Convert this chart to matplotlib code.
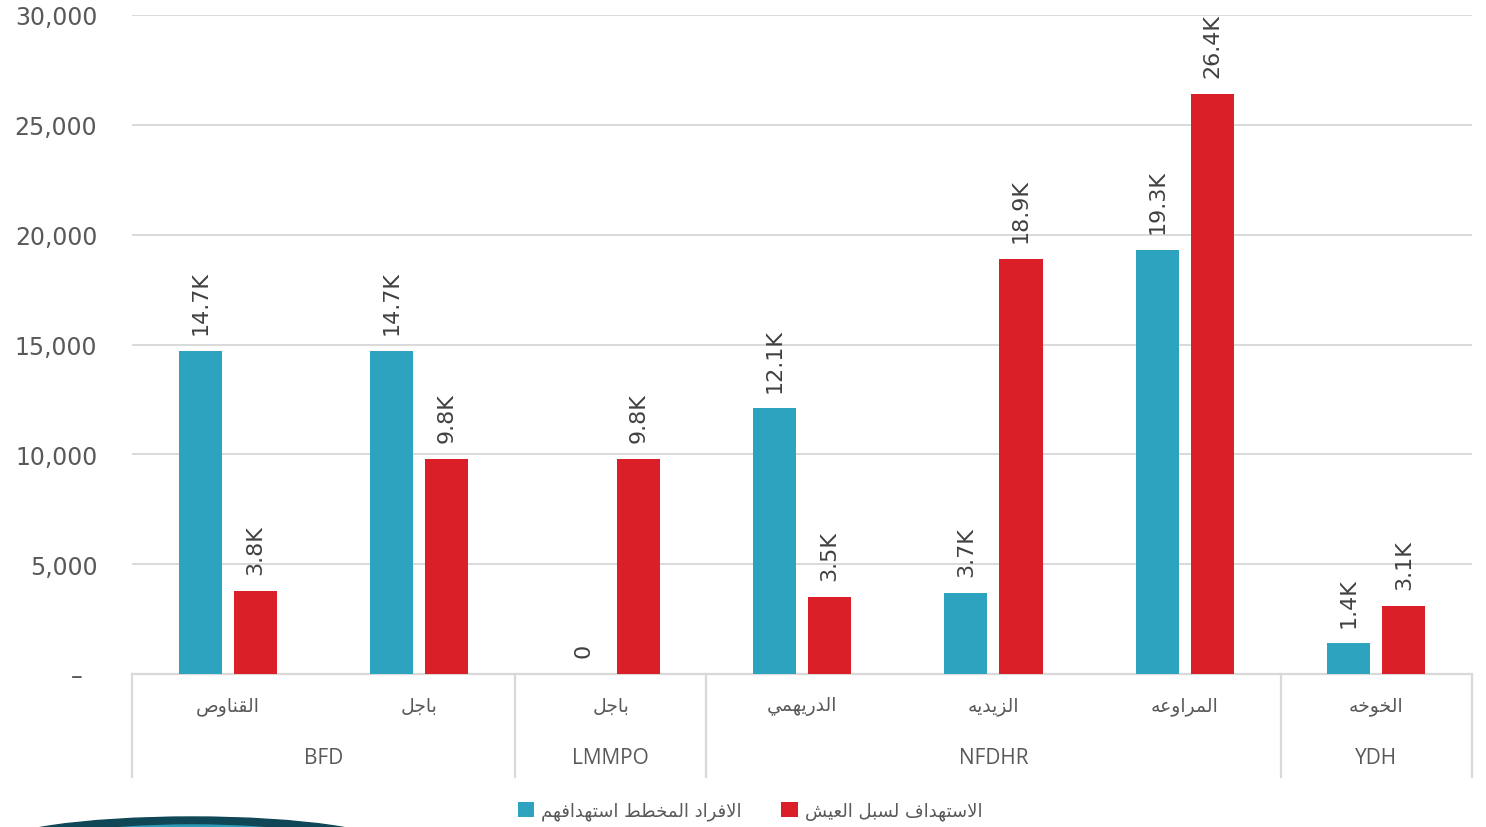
import matplotlib
matplotlib.use('Agg')
import matplotlib.pyplot as plt
import numpy as np
from matplotlib.patches import Ellipse, Patch
from matplotlib.lines import Line2D
from matplotlib.ticker import FuncFormatter

# ---------------- data ----------------
groups = ['BFD', 'LMMPO', 'NFDHR', 'YDH']
group_sizes = [2, 1, 3, 1]
districts = ['القناوص', 'باجل', 'باجل', 'الدريهمي', 'الزيديه', 'المراوعه', 'الخوخه']
planned = [14700, 14700, 0, 12100, 3700, 19300, 1400]
livelihood = [3800, 9800, 9800, 3500, 18900, 26400, 3100]
planned_labels = ['14.7K', '14.7K', '0', '12.1K', '3.7K', '19.3K', '1.4K']
livelihood_labels = ['3.8K', '9.8K', '9.8K', '3.5K', '18.9K', '26.4K', '3.1K']
series_names = ['الافراد المخطط استهدافهم', 'الاستهداف لسبل العيش']
yticks = [0, 5000, 10000, 15000, 20000, 25000, 30000]

# ---------------- simple Arabic shaping ----------------
FORMS = {  # isolated, final, initial, medial
    'ا': ('\uFE8D', '\uFE8E', None, None),
    'ب': ('\uFE8F', '\uFE90', '\uFE91', '\uFE92'),
    'ت': ('\uFE95', '\uFE96', '\uFE97', '\uFE98'),
    'ج': ('\uFE9D', '\uFE9E', '\uFE9F', '\uFEA0'),
    'خ': ('\uFEA5', '\uFEA6', '\uFEA7', '\uFEA8'),
    'د': ('\uFEA9', '\uFEAA', None, None),
    'ر': ('\uFEAD', '\uFEAE', None, None),
    'ز': ('\uFEAF', '\uFEB0', None, None),
    'س': ('\uFEB1', '\uFEB2', '\uFEB3', '\uFEB4'),
    'ش': ('\uFEB5', '\uFEB6', '\uFEB7', '\uFEB8'),
    'ص': ('\uFEB9', '\uFEBA', '\uFEBB', '\uFEBC'),
    'ط': ('\uFEC1', '\uFEC2', '\uFEC3', '\uFEC4'),
    'ع': ('\uFEC9', '\uFECA', '\uFECB', '\uFECC'),
    'ف': ('\uFED1', '\uFED2', '\uFED3', '\uFED4'),
    'ق': ('\uFED5', '\uFED6', '\uFED7', '\uFED8'),
    'ل': ('\uFEDD', '\uFEDE', '\uFEDF', '\uFEE0'),
    'م': ('\uFEE1', '\uFEE2', '\uFEE3', '\uFEE4'),
    'ن': ('\uFEE5', '\uFEE6', '\uFEE7', '\uFEE8'),
    'ه': ('\uFEE9', '\uFEEA', '\uFEEB', '\uFEEC'),
    'و': ('\uFEED', '\uFEEE', None, None),
    'ي': ('\uFEF1', '\uFEF2', '\uFEF3', '\uFEF4'),
    'LA': ('\uFEFB', '\uFEFC', None, None),
}


def shape(text):
    toks = []
    i = 0
    while i < len(text):
        if text[i] == 'ل' and i + 1 < len(text) and text[i + 1] == 'ا':
            toks.append('LA')
            i += 2
        else:
            toks.append(text[i])
            i += 1
    out = []
    for k, t in enumerate(toks):
        if t not in FORMS:
            out.append(t)
            continue
        prev = toks[k - 1] if k > 0 else None
        nxt = toks[k + 1] if k + 1 < len(toks) else None
        jp = prev in FORMS and FORMS[prev][2] is not None
        jn = FORMS[t][2] is not None and nxt in FORMS
        f = FORMS[t]
        if jp and jn:
            out.append(f[3])
        elif jp:
            out.append(f[1])
        elif jn:
            out.append(f[2])
        else:
            out.append(f[0])
    return ''.join(reversed(out))


# ---------------- figure ----------------
W, H = 1486, 828
fig = plt.figure(figsize=(W / 100, H / 100), dpi=100)
ax = fig.add_axes([132 / W, 1 - 675 / H, (1472 - 132) / W, (675 - 16) / H])

BLUE = '#2DA3BF'
RED = '#DA1F29'
GRAY_TXT = '#595959'
GRID = '#D9D9D9'

x = np.arange(len(districts))
bw = 0.225
off = 0.144
ax.bar(x - off, planned, bw, color=BLUE, zorder=3)
ax.bar(x + off, livelihood, bw, color=RED, zorder=3)

for xi, v, lab in zip(x, planned, planned_labels):
    ax.annotate(lab, (xi - off, v), xytext=(0, 12), textcoords='offset points',
                rotation=90, ha='center', va='bottom', fontsize=16,
                color='#404040', family='DejaVu Sans')
for xi, v, lab in zip(x, livelihood, livelihood_labels):
    ax.annotate(lab, (xi + off, v), xytext=(0, 12), textcoords='offset points',
                rotation=90, ha='center', va='bottom', fontsize=16,
                color='#404040', family='DejaVu Sans')

ax.set_xlim(-0.5, len(districts) - 0.5)
ax.set_ylim(0, 30000)
ax.set_yticks(yticks)
ax.yaxis.set_major_formatter(FuncFormatter(lambda v, p: '–  ' if v == 0 else f'{int(v):,}'))
ax.tick_params(axis='y', length=0, pad=25, labelsize=17, labelcolor=GRAY_TXT)
ax.set_xticks([])
ax.grid(axis='y', color=GRID, lw=1.4, zorder=0)
for s in ['left', 'right', 'top']:
    ax.spines[s].set_visible(False)
ax.spines['bottom'].set_color(GRID)
ax.spines['bottom'].set_linewidth(1.6)

# hierarchical category axis
trans = ax.get_xaxis_transform()
ybot = -(778 - 675) / 659
for xi, name in zip(x, districts):
    ax.text(xi, -(707 - 675) / 659, shape(name), transform=trans, ha='center',
            va='center', fontsize=13.5, color=GRAY_TXT, family='DejaVu Sans')
edges = np.concatenate([[0], np.cumsum(group_sizes)]) - 0.5
for e in edges:
    ax.add_line(Line2D([e, e], [0, ybot], transform=trans, color=GRID, lw=1.6,
                       clip_on=False))
for g, a, b in zip(groups, edges[:-1], edges[1:]):
    ax.text((a + b) / 2, -(759 - 675) / 659, g, transform=trans, ha='center',
            va='center', fontsize=15, color=GRAY_TXT, family='Open Sans')

# legend
handles = [Patch(facecolor=BLUE), Patch(facecolor=RED)]
leg = fig.legend(handles, [shape(s) for s in series_names], ncol=2, loc='center',
                 bbox_to_anchor=(750 / W, 1 - 812 / H), frameon=False,
                 prop={'family': 'DejaVu Sans', 'size': 13},
                 handlelength=0.9, handleheight=0.9, handletextpad=0.4,
                 columnspacing=2.2)
for t in leg.get_texts():
    t.set_color(GRAY_TXT)

# decorative arc at bottom-left
fig.add_artist(Ellipse((192 / 100, -20 / 100), 400 / 100, 60 / 100,
                       transform=fig.dpi_scale_trans, color='#0F4756', zorder=1))
fig.add_artist(Ellipse((192 / 100, -28 / 100), 360 / 100, 60 / 100,
                       transform=fig.dpi_scale_trans, color='#2A9DBA', zorder=2))

fig.savefig('out.png', dpi=100)
